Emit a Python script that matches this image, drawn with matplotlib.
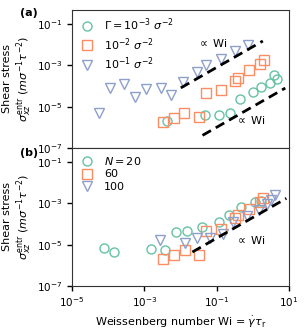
import numpy as np
import matplotlib.pyplot as plt

plt.rcParams['font.family'] = 'DejaVu Sans'
plt.rcParams['mathtext.fontset'] = 'dejavusans'

green = '#66c2a5'
orange = '#fc8d62'
blue = '#8da0cb'

# panel (a): log10 values
a_circ_x = [-2.36, -1.33, -0.94, -0.64, -0.36, 0.00, 0.23, 0.49, 0.58, 0.67]
a_circ_y = [-5.69, -5.42, -5.42, -5.30, -4.64, -4.30, -4.04, -3.85, -3.49, -3.67]
a_sq_x = [-2.48, -2.18, -1.90, -1.48, -1.30, -0.89, -0.48, -0.41, -0.11, 0.21, 0.30]
a_sq_y = [-5.74, -5.53, -5.29, -5.50, -4.36, -4.20, -3.77, -3.61, -3.23, -2.91, -2.75]
a_tri_x = [-4.26, -3.95, -3.55, -3.25, -2.95, -2.54, -2.25, -1.94, -1.53, -1.28, -0.89, -0.50, -0.14]
a_tri_y = [-5.33, -4.12, -3.88, -4.53, -4.16, -4.12, -4.45, -3.80, -3.31, -2.99, -2.67, -2.30, -2.02]

# panel (b)
b_circ_x = [-4.12, -3.83, -2.82, -2.43, -2.11, -1.81, -1.41, -0.94, -0.66, -0.32, 0.05, 0.22]
b_circ_y = [-5.16, -5.36, -5.19, -5.24, -4.41, -4.34, -4.15, -3.91, -3.55, -3.20, -2.95, -2.88]
b_sq_x = [-2.48, -2.19, -1.88, -1.49, -1.30, -0.89, -0.48, -0.41, -0.11, 0.19, 0.28]
b_sq_y = [-5.72, -5.52, -5.28, -5.48, -4.36, -4.23, -3.70, -3.55, -3.26, -2.92, -2.73]
b_tri_x = [-2.57, -1.88, -1.55, -1.19, -0.82, -0.54, -0.17, 0.16, 0.39, 0.50, 0.62]
b_tri_y = [-4.79, -4.92, -4.68, -4.68, -4.50, -3.91, -3.63, -3.31, -3.02, -2.83, -2.58]

# guide lines (log10 endpoints)
a_line1 = ([-1.99, 0.28], [-4.09, -1.82])
a_line2 = ([-1.39, 0.90], [-6.39, -4.10])
b_line = ([-1.67, 0.93], [-5.36, -2.76])

fig = plt.figure(figsize=(3.07, 3.34), dpi=100)
ax1 = fig.add_axes([0.2345, 0.557, 0.7065, 0.413])
ax2 = fig.add_axes([0.2345, 0.144, 0.7065, 0.413], sharex=ax1)

ms = 6.5
mew = 1.0

def pts(ax, lx, ly, marker, color, label):
    ax.plot(10**np.array(lx), 10**np.array(ly), ls='none', marker=marker, ms=ms,
            mfc='none', mec=color, mew=mew, label=label)

def guide(ax, line):
    ax.plot(10**np.array(line[0]), 10**np.array(line[1]), 'k--', lw=2, dashes=(3.5, 2))

pts(ax1, a_circ_x, a_circ_y, 'o', green, r'$\Gamma = 10^{-3}\ \sigma^{-2}$')
pts(ax1, a_sq_x, a_sq_y, 's', orange, r'$10^{-2}\ \sigma^{-2}$')
pts(ax1, a_tri_x, a_tri_y, 'v', blue, r'$10^{-1}\ \sigma^{-2}$')
guide(ax1, a_line1)
guide(ax1, a_line2)
ax1.text(10**-1.12, 10**-1.94, r'$\propto$ Wi', fontsize=8, ha='center', va='center')
ax1.text(10**-0.07, 10**-5.66, r'$\propto$ Wi', fontsize=8, ha='center', va='center')

pts(ax2, b_circ_x, b_circ_y, 'o', green, r'$N = 20$')
pts(ax2, b_sq_x, b_sq_y, 's', orange, '60')
pts(ax2, b_tri_x, b_tri_y, 'v', blue, '100')
guide(ax2, b_line)
ax2.text(10**-0.06, 10**-4.76, r'$\propto$ Wi', fontsize=8, ha='center', va='center')

for ax in (ax1, ax2):
    ax.set_xscale('log')
    ax.set_yscale('log')
    ax.set_xlim(1e-5, 1e1)
    ax.set_ylim(1e-7, 10**-0.32)
    ax.set_yticks([1e-7, 1e-5, 1e-3, 1e-1])
    ax.yaxis.set_minor_locator(plt.NullLocator())
    ax.xaxis.set_minor_locator(plt.NullLocator())
    ax.tick_params(labelsize=7.5, length=3.5, width=1)
    ax.set_ylabel('Shear stress\n' + r'$\sigma_{xz}^{\rm entr}\ (m\sigma^{-1}\tau^{-2})$', fontsize=8, labelpad=2)
    ax.legend(loc='upper left', frameon=False, fontsize=8, handletextpad=0.8,
              borderaxespad=0.2, labelspacing=0.25, handlelength=1.5)
    for s in ax.spines.values():
        s.set_color('#333333')

ax2.set_xticks([1e-5, 1e-3, 1e-1, 1e1])
ax1.tick_params(axis='x', length=0, labelbottom=False)
ax2.set_xlabel(r'Weissenberg number Wi = $\dot{\gamma}\tau_{\rm r}$', fontsize=8)

fig.text(0.065, 0.962, '(a)', fontsize=8, fontweight='bold', va='center')
fig.text(0.065, 0.543, '(b)', fontsize=8, fontweight='bold', va='center')

fig.savefig('out.png', dpi=100)
